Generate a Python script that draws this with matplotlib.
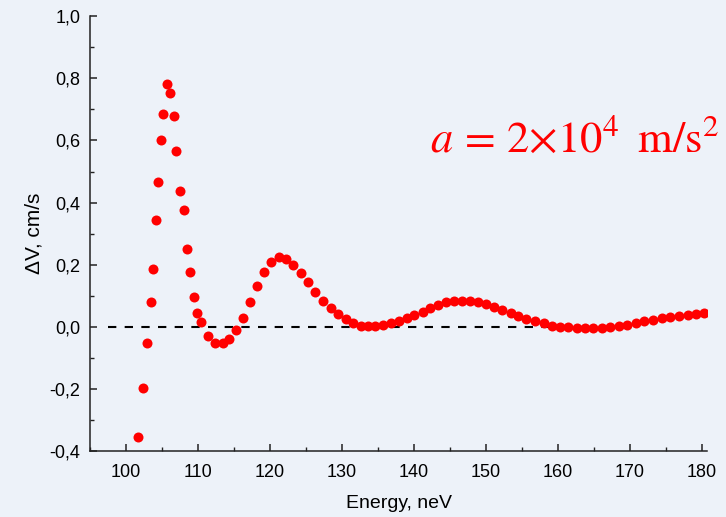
import numpy as np
import matplotlib
matplotlib.use('Agg')
import matplotlib.pyplot as plt
from matplotlib.ticker import MultipleLocator, FuncFormatter

# data
energy = [101.6, 102.3, 102.9, 103.5, 103.8, 104.2, 104.4, 104.8, 105.1, 105.65,
          106.1, 106.6, 107.0, 107.5, 108.0, 108.5, 108.9, 109.4, 109.9, 110.4,
          111.4, 112.4, 113.4, 114.35, 115.3, 116.2, 117.2, 118.2, 119.2, 120.2,
          121.2, 122.2, 123.2, 124.3, 125.3, 126.3, 127.4, 128.4, 129.4, 130.5,
          131.5, 132.6, 133.6, 134.6, 135.7, 136.8, 137.9, 139.0, 140.0, 141.2,
          142.2, 143.3, 144.4, 145.6, 146.7, 147.8, 148.9, 150.0, 151.1, 152.2,
          153.4, 154.5, 155.6, 156.8, 158.0, 159.1, 160.3, 161.4, 162.6, 163.75,
          164.9, 166.1, 167.2, 168.4, 169.6, 170.8, 172.0, 173.2, 174.4, 175.6,
          176.8, 178.0, 179.2, 180.3]
delta_v = [-0.352, -0.195, -0.052, 0.08, 0.188, 0.343, 0.465, 0.602, 0.685, 0.782,
           0.752, 0.678, 0.565, 0.438, 0.376, 0.251, 0.176, 0.097, 0.044, 0.017,
           -0.03, -0.05, -0.05, -0.039, -0.011, 0.03, 0.08, 0.132, 0.177, 0.21,
           0.224, 0.219, 0.201, 0.175, 0.144, 0.113, 0.085, 0.062, 0.042, 0.025,
           0.014, 0.005, 0.002, 0.002, 0.006, 0.012, 0.02, 0.029, 0.039, 0.05,
           0.062, 0.071, 0.079, 0.083, 0.085, 0.084, 0.08, 0.073, 0.065, 0.055,
           0.046, 0.036, 0.026, 0.019, 0.012, 0.005, 0.001, -0.001, -0.003, -0.004,
           -0.004, -0.003, 0.0, 0.003, 0.007, 0.013, 0.018, 0.022, 0.028, 0.032,
           0.035, 0.038, 0.041, 0.044]

bg = '#EDF2F9'
plt.rcParams['font.family'] = ['Liberation Sans', 'DejaVu Sans']
plt.rcParams['mathtext.fontset'] = 'stix'

fig = plt.figure(figsize=(7.26, 5.17), dpi=100, facecolor=bg)
ax = fig.add_axes([0.124, 0.1267, 0.850, 0.8424], facecolor=bg)

ax.plot([97.5, 165], [0, 0], linestyle=(0, (4, 4)), color='black', lw=1.5, zorder=1)
ax.plot(energy, delta_v, 'o', color='#FF0000', markersize=7.2,
        markeredgewidth=0, zorder=2)

ax.set_xlim(95, 180.7)
ax.set_ylim(-0.4, 1.0)
ax.xaxis.set_major_locator(MultipleLocator(10))
ax.xaxis.set_minor_locator(MultipleLocator(5))
ax.yaxis.set_major_locator(MultipleLocator(0.2))
ax.yaxis.set_minor_locator(MultipleLocator(0.1))
ax.yaxis.set_major_formatter(FuncFormatter(lambda v, p: f'{v:.1f}'.replace('.', ',')))

for s in ['top', 'right']:
    ax.spines[s].set_visible(False)
for s in ['left', 'bottom']:
    ax.spines[s].set_linewidth(1.1)
    ax.spines[s].set_color('#222222')
ax.tick_params(which='major', direction='in', length=5, width=1.1,
               labelsize=13, pad=7, color='#222222')
ax.tick_params(axis='x', which='major', pad=9)
ax.tick_params(which='minor', direction='in', length=3, width=1.0, color='#222222')

ax.set_xlabel('Energy, neV', fontsize=14, labelpad=10)
ax.set_ylabel('\u0394V, cm/s', fontsize=15, labelpad=4)

fig.text(0.592, 0.707, r'$a\,=\,2{\times}10^{4}\;\;\mathrm{m/s}^{2}$',
         color='#FF0000', fontsize=32, ha='left', va='baseline')

fig.savefig('out.png', dpi=100, facecolor=bg)
